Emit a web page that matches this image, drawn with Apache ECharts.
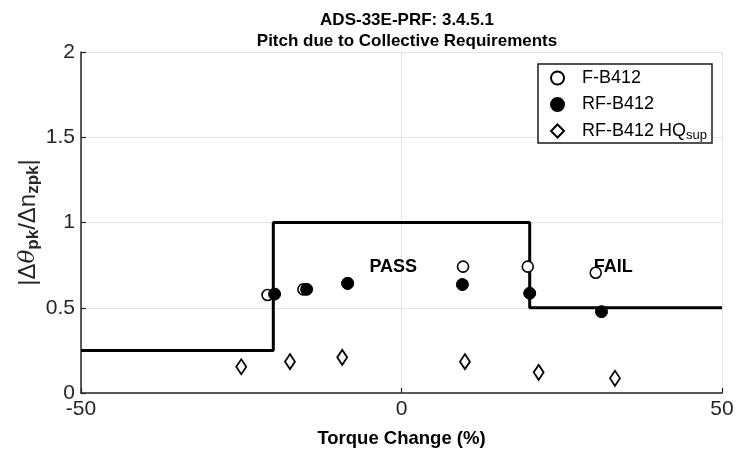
<!DOCTYPE html>
<html>
<head>
<meta charset="utf-8">
<script src="https://cdn.jsdelivr.net/npm/echarts@6/dist/echarts.min.js"></script>
<style>
  html, body { margin: 0; padding: 0; background: #fff; }
  #chart { width: 736px; height: 450px; }
</style>
</head>
<body>
<div id="chart"></div>
<script>
// Pitch due to collective: peak pitch attitude per peak load factor vs torque change
const fB412 = [[-20.9, 0.575], [-15.3, 0.608], [-8.4, 0.643], [9.6, 0.741], [19.7, 0.741], [30.3, 0.705]];
const rfB412 = [[-19.8, 0.58], [-14.8, 0.608], [-8.4, 0.643], [9.5, 0.636], [20.0, 0.585], [31.2, 0.477]];
const rfB412HQ = [[-25.0, 0.154], [-17.4, 0.184], [-9.25, 0.209], [9.9, 0.184], [21.4, 0.121], [33.3, 0.086]];
// Level boundary: pass region between -20% and +20% torque change
const boundary = [[-50, 0.25], [-20, 0.25], [-20, 1], [20, 1], [20, 0.5], [50, 0.5]];
const regionLabels = [[-5, 0.74, 'PASS'], [30, 0.74, 'FAIL']];
const xTicks = { min: -50, max: 50, interval: 50 };
const yTicks = { min: 0, max: 2, interval: 0.5 };

const FONT = '"Liberation Sans", Arial, Helvetica, sans-serif';
const INK = '#262626';

const chart = echarts.init(document.getElementById('chart'), null, { renderer: 'canvas' });

chart.setOption({
  animation: false,
  backgroundColor: '#fff',
  textStyle: { fontFamily: FONT },
  title: {
    text: 'ADS-33E-PRF: 3.4.5.1\nPitch due to Collective Requirements',
    left: 402,
    top: 5,
    textAlign: 'center',
    textStyle: { fontFamily: FONT, fontSize: 17, fontWeight: 'bold', color: '#000', lineHeight: 21 }
  },
  grid: { left: 81, right: 14, top: 52, bottom: 57, containLabel: false, outerBoundsMode: 'none' },
  legend: {
    orient: 'vertical',
    right: 24,
    top: 64,
    data: ['F-B412', 'RF-B412', 'RF-B412 HQsup'],
    borderColor: '#1a1a1a',
    borderWidth: 1.5,
    backgroundColor: '#fff',
    padding: [3.5, 5, 1.5, 12],
    itemGap: 5.5,
    itemWidth: 13,
    itemHeight: 13,
    formatter: function (name) {
      return name === 'RF-B412 HQsup' ? 'RF-B412 HQ{sub|sup}' : name;
    },
    textStyle: {
      fontFamily: FONT, fontSize: 18, color: '#000', lineHeight: 21,
      padding: [0, 0, 0, 13],
      rich: {
        sub: { fontFamily: FONT, fontSize: 13, color: '#000', verticalAlign: 'bottom', padding: [9, 0, 0, 0] }
      }
    }
  },
  xAxis: {
    type: 'value',
    min: xTicks.min, max: xTicks.max, interval: xTicks.interval,
    name: 'Torque Change (%)',
    nameLocation: 'middle',
    nameGap: 36,
    nameTextStyle: { fontFamily: FONT, fontSize: 18.5, fontWeight: 'bold', color: '#000' },
    axisLine: { show: true, onZero: false, lineStyle: { color: INK, width: 1.5 } },
    axisTick: { show: true, inside: true, length: 5, lineStyle: { color: INK, width: 1.2 } },
    axisLabel: { fontFamily: FONT, fontSize: 21, color: INK, margin: 6 },
    splitLine: { show: true, lineStyle: { color: '#e3e3e3', width: 1 } }
  },
  yAxis: {
    type: 'value',
    min: yTicks.min, max: yTicks.max, interval: yTicks.interval,
    name: '|Δ{it|θ}{sub|pk}/Δn{sub|zpk}|',
    nameLocation: 'middle',
    nameGap: 39,
    nameMoveOverlap: false,
    nameRotate: 90,
    nameTextStyle: {
      fontFamily: FONT, fontSize: 24, color: INK,
      rich: {
        it: { fontFamily: '"DejaVu Serif", serif', fontStyle: 'italic', fontSize: 23, color: INK },
        sub: { fontFamily: FONT, fontSize: 17, fontWeight: 'bold', color: INK, verticalAlign: 'bottom', padding: [11, 0, 0, 0] }
      }
    },
    axisLine: { show: true, onZero: false, lineStyle: { color: INK, width: 1.5 } },
    axisTick: { show: true, inside: true, length: 5, lineStyle: { color: INK, width: 1.2 } },
    axisLabel: {
      fontFamily: FONT, fontSize: 21, color: INK, margin: 6,
      formatter: function (v) { return String(v); }
    },
    splitLine: { show: true, lineStyle: { color: '#e3e3e3', width: 1 } }
  },
  series: [
    {
      name: 'boundary',
      type: 'line',
      data: boundary,
      showSymbol: false,
      symbol: 'none',
      lineStyle: { color: '#000', width: 3 },
      z: 2,
      silent: true
    },
    {
      name: 'regions',
      type: 'scatter',
      data: regionLabels,
      symbolSize: 0,
      z: 3,
      itemStyle: { opacity: 1 },
      label: {
        show: true,
        position: [0, 0],
        align: 'left',
        verticalAlign: 'middle',
        formatter: function (p) { return p.data[2]; },
        fontFamily: FONT, fontSize: 18, fontWeight: 'bold', color: '#000', opacity: 1
      }
    },
    {
      name: 'F-B412',
      type: 'scatter',
      data: fB412,
      symbol: 'circle',
      symbolSize: 11,
      itemStyle: { color: '#fff', borderColor: '#000', borderWidth: 1.6, opacity: 1 },
      z: 4
    },
    {
      name: 'RF-B412',
      type: 'scatter',
      data: rfB412,
      symbol: 'circle',
      symbolSize: 12,
      itemStyle: { color: '#000', borderColor: '#000', borderWidth: 1, opacity: 1 },
      z: 5
    },
    {
      name: 'RF-B412 HQsup',
      type: 'scatter',
      data: rfB412HQ,
      symbol: 'diamond',
      symbolSize: [10, 15],
      itemStyle: { color: '#fff', borderColor: '#000', borderWidth: 1.8, opacity: 1 },
      z: 4
    }
  ]
});
</script>
</body>
</html>
